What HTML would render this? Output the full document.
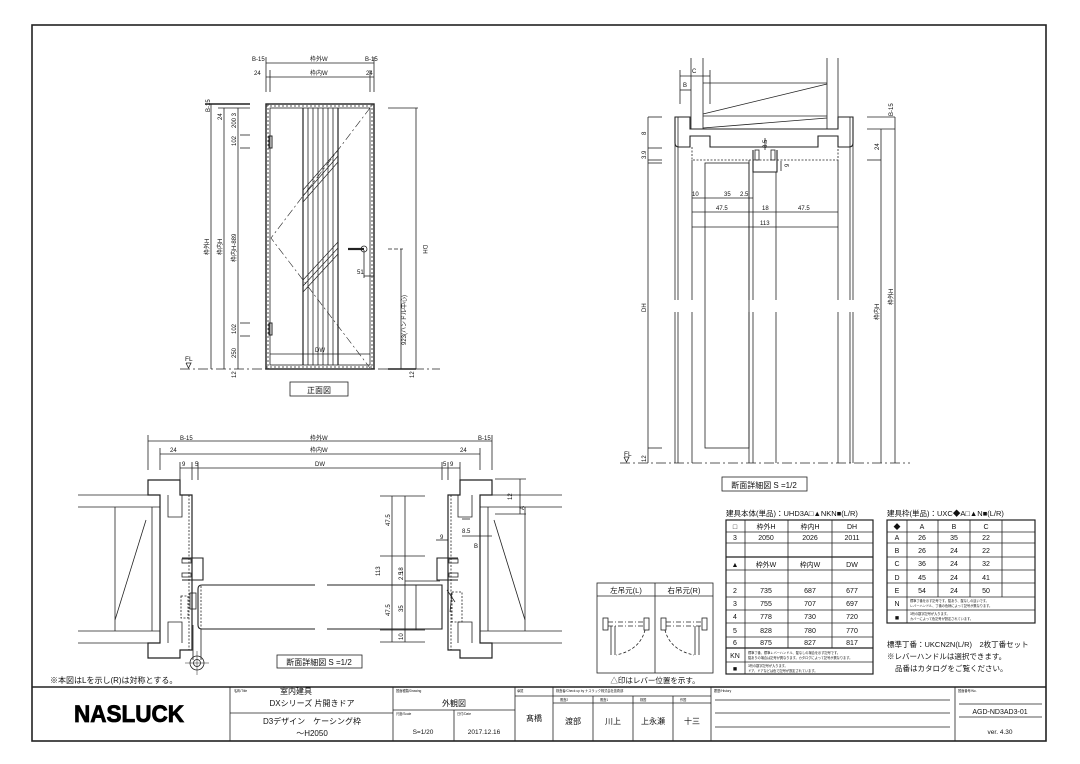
<!DOCTYPE html>
<html><head><meta charset="utf-8"><style>
html,body{margin:0;padding:0;background:#fff}
svg{display:block}
text{font-family:"Liberation Sans","Noto Sans CJK JP",sans-serif;fill:#111}
</style></head><body>
<svg width="1080" height="764" viewBox="0 0 1080 764" xmlns="http://www.w3.org/2000/svg">
<rect width="1080" height="764" fill="#fff"/>
<g fill="none" stroke="#222" stroke-width="0.8">
<rect x="32" y="25" width="1014" height="716" stroke-width="1.6"/>
<line x1="32" y1="687" x2="1046" y2="687" stroke-width="1.4"/>

<rect x="266" y="104" width="108" height="265" stroke-width="1.4"/>
<rect x="270" y="108" width="100" height="257"/>
<line x1="266" y1="106" x2="374" y2="106" stroke-dasharray="2 2"/>
<line x1="268" y1="104" x2="268" y2="369" stroke-dasharray="2 2"/>
<line x1="372" y1="104" x2="372" y2="369" stroke-dasharray="2 2"/>
<line x1="266" y1="367" x2="374" y2="367" stroke-dasharray="2 2"/>
<line x1="303" y1="108" x2="303" y2="365" stroke-width="1.2"/>
<line x1="338" y1="108" x2="338" y2="365" stroke-width="1.2"/>
<line x1="308" y1="108" x2="308" y2="365"/><line x1="313" y1="108" x2="313" y2="365"/>
<line x1="318" y1="108" x2="318" y2="365"/><line x1="323" y1="108" x2="323" y2="365"/>
<line x1="328" y1="108" x2="328" y2="365"/><line x1="333" y1="108" x2="333" y2="365"/>
<polyline points="370,108 271,238 370,368" stroke-dasharray="8 3 2 3" stroke-width="0.6"/>
<g stroke-width="0.7"><line x1="303" y1="196" x2="338" y2="156"/><line x1="303" y1="190" x2="338" y2="150"/><line x1="303" y1="202" x2="338" y2="162"/>
<line x1="303" y1="286" x2="338" y2="248"/><line x1="303" y1="280" x2="338" y2="242"/><line x1="303" y1="292" x2="338" y2="254"/></g>
<line x1="270" y1="354" x2="370" y2="354"/>
<rect x="269" y="136" width="3" height="12" stroke-width="1"/>
<rect x="269" y="323" width="3" height="12" stroke-width="1"/>
<line x1="348" y1="249" x2="364" y2="249" stroke-width="2.2"/>
<circle cx="364" cy="249" r="3"/>
<line x1="266" y1="63" x2="374" y2="63"/><line x1="266" y1="77" x2="374" y2="77"/>
<line x1="266" y1="57" x2="266" y2="92"/><line x1="270" y1="70" x2="270" y2="92"/>
<line x1="370" y1="70" x2="370" y2="92"/><line x1="374" y1="57" x2="374" y2="92"/>
<line x1="211" y1="104" x2="211" y2="369"/><line x1="224" y1="108" x2="224" y2="369"/><line x1="238" y1="108" x2="238" y2="369"/>
<line x1="205" y1="104" x2="250" y2="104" stroke-width="1.4"/><line x1="218" y1="108" x2="250" y2="108"/>
<line x1="240" y1="135" x2="250" y2="135"/><line x1="240" y1="148" x2="250" y2="148"/>
<line x1="240" y1="323" x2="250" y2="323"/><line x1="240" y1="336" x2="250" y2="336"/>
<line x1="180" y1="369" x2="440" y2="369" stroke-dasharray="10 3 2 3"/>
<line x1="388" y1="108" x2="418" y2="108"/><line x1="416" y1="108" x2="416" y2="369"/>
<line x1="388" y1="249" x2="403" y2="249" stroke-dasharray="4 2"/><line x1="401" y1="249" x2="401" y2="369"/>
<line x1="364" y1="250" x2="364" y2="278"/><line x1="364" y1="276" x2="374" y2="276"/>
<line x1="388" y1="369" x2="416" y2="369" stroke-width="1.4"/>
<rect x="290" y="382" width="58" height="14"/>
<polyline points="186,363 191,363 188.5,368 186,363"/>

<line x1="691" y1="58" x2="691" y2="129"/><line x1="703" y1="58" x2="703" y2="129"/>
<line x1="827" y1="58" x2="827" y2="129"/><line x1="838" y1="58" x2="838" y2="129"/>
<line x1="703" y1="83" x2="827" y2="83"/><line x1="703" y1="116" x2="827" y2="116"/>
<line x1="703" y1="114" x2="827" y2="84"/><line x1="703" y1="128" x2="827" y2="118"/>
<g stroke-width="1.1">
<path d="M675,117 H690 V129 H838 V117 H853 V143 Q853,147 849,147 H838 V136 H818 V147 H710 V136 H690 V147 H679 Q675,147 675,143 Z"/>
</g>
<path d="M692,147 V160 H838 V147" stroke-dasharray="2 1.5"/>
<line x1="675" y1="117" x2="675" y2="300"/><line x1="678" y1="117" x2="678" y2="300"/>
<line x1="850" y1="117" x2="850" y2="300"/><line x1="853" y1="117" x2="853" y2="300"/>
<line x1="675" y1="312" x2="675" y2="463"/><line x1="678" y1="312" x2="678" y2="463"/>
<line x1="850" y1="312" x2="850" y2="463"/><line x1="853" y1="312" x2="853" y2="463"/>
<line x1="692" y1="160" x2="692" y2="300"/><line x1="838" y1="160" x2="838" y2="300"/>
<line x1="692" y1="312" x2="692" y2="463"/><line x1="838" y1="312" x2="838" y2="463"/>
<line x1="749" y1="160" x2="749" y2="300"/><line x1="753" y1="172" x2="753" y2="300"/><line x1="776" y1="172" x2="776" y2="300"/>
<line x1="749" y1="312" x2="749" y2="463"/><line x1="753" y1="312" x2="753" y2="463"/><line x1="776" y1="312" x2="776" y2="463"/>
<rect x="705" y="163" width="44" height="285"/>
<path d="M753,150 V172 H777 V150" stroke-width="1.1"/>
<rect x="755" y="150" width="4" height="10"/><rect x="771" y="150" width="4" height="10"/>
<line x1="692" y1="198" x2="753" y2="198"/><line x1="692" y1="212" x2="838" y2="212"/><line x1="692" y1="227" x2="838" y2="227"/>
<line x1="648" y1="117" x2="648" y2="463"/><line x1="648" y1="117" x2="662" y2="117"/>
<line x1="648" y1="148" x2="662" y2="148"/><line x1="648" y1="160" x2="662" y2="160"/><line x1="648" y1="163" x2="662" y2="163"/>
<line x1="648" y1="448" x2="662" y2="448"/>
<line x1="680" y1="76" x2="710" y2="76"/><line x1="680" y1="90" x2="691" y2="90"/>
<line x1="680" y1="70" x2="680" y2="104"/><line x1="710" y1="70" x2="710" y2="104"/>
<line x1="867" y1="117" x2="895" y2="117"/><line x1="867" y1="129" x2="895" y2="129"/><line x1="867" y1="160" x2="881" y2="160"/>
<line x1="881" y1="129" x2="881" y2="463"/><line x1="895" y1="117" x2="895" y2="463"/>
<line x1="620" y1="463" x2="910" y2="463" stroke-dasharray="10 3 2 3"/>
<line x1="765" y1="138" x2="765" y2="150"/><line x1="781" y1="161" x2="781" y2="171"/>
<polyline points="624,457 629,457 626.5,462 624,457"/>
<rect x="722" y="477" width="85" height="14"/>

<line x1="148" y1="441" x2="492" y2="441"/><line x1="160" y1="454" x2="480" y2="454"/><line x1="180" y1="468" x2="460" y2="468"/>
<line x1="148" y1="435" x2="148" y2="470"/><line x1="160" y1="448" x2="160" y2="470"/>
<line x1="180" y1="462" x2="180" y2="480"/><line x1="192" y1="462" x2="192" y2="480"/><line x1="198" y1="462" x2="198" y2="480"/>
<line x1="492" y1="435" x2="492" y2="470"/><line x1="480" y1="448" x2="480" y2="470"/>
<line x1="460" y1="462" x2="460" y2="480"/><line x1="448" y1="462" x2="448" y2="480"/><line x1="442" y1="462" x2="442" y2="480"/>
<g>
<line x1="78" y1="495" x2="160" y2="495"/><line x1="78" y1="507" x2="160" y2="507"/>
<line x1="78" y1="631" x2="160" y2="631"/><line x1="78" y1="643" x2="160" y2="643"/>
<line x1="115" y1="507" x2="115" y2="631"/><line x1="152" y1="507" x2="152" y2="631"/>
<line x1="115" y1="620" x2="146" y2="520"/>
<path d="M148,480 H180 V495 H192 V650 H180 V658 H148 V643 H160 V495 H148 Z" stroke-width="1.2"/>
<path d="M168,495 V517 H182 V495"/>
<path d="M168,643 V622 H182 V643"/>
<line x1="189" y1="495" x2="189" y2="650" stroke-dasharray="2 1.5"/>
</g>
<g transform="matrix(-1,0,0,1,640,0)">
<line x1="78" y1="495" x2="160" y2="495"/><line x1="78" y1="507" x2="160" y2="507"/>
<line x1="78" y1="631" x2="160" y2="631"/><line x1="78" y1="643" x2="160" y2="643"/>
<line x1="115" y1="507" x2="115" y2="631"/><line x1="152" y1="507" x2="152" y2="631"/>
<line x1="115" y1="620" x2="146" y2="520"/>
<path d="M148,480 H180 V495 H192 V650 H180 V658 H148 V643 H160 V495 H148 Z" stroke-width="1.2"/>
<path d="M168,495 V517 H182 V495"/>
<path d="M168,643 V622 H182 V643"/>
<line x1="189" y1="495" x2="189" y2="650" stroke-dasharray="2 1.5"/>
<path d="M182,558 H203 V580 H182" stroke-width="1.1"/>
<rect x="182" y="559" width="9" height="4"/><rect x="182" y="573" width="9" height="4"/>
</g>
<path d="M182,558 H203 V580 H182" stroke-width="1.1"/>
<rect x="182" y="559" width="9" height="4"/><rect x="182" y="573" width="9" height="4"/>
<path d="M315,585 H202 Q198,585 198,589 V625 Q198,629 202,629 H315" stroke-width="1.1"/>
<path d="M327,585 H442 V629 H327" stroke-width="1.1"/>
<line x1="201" y1="586" x2="201" y2="628" stroke-dasharray="2 1.5"/>
<rect x="181" y="596" width="7" height="22" stroke-dasharray="2 1.5"/>
<rect x="190" y="593" width="6" height="16"/>
<line x1="193" y1="625" x2="193" y2="660"/><line x1="201" y1="629" x2="201" y2="660"/>
<circle cx="197" cy="663" r="7"/><circle cx="197" cy="663" r="3.5"/>
<line x1="185" y1="663" x2="209" y2="663" stroke-width="0.5"/><line x1="197" y1="651" x2="197" y2="675" stroke-width="0.5"/>
<path d="M447,590 L455,602 M452,592 L450,612" />
<rect x="452" y="592" width="10" height="30" stroke-dasharray="2 1.5"/>
<line x1="380" y1="496" x2="425" y2="496"/><line x1="380" y1="642" x2="425" y2="642"/>
<line x1="380" y1="556" x2="425" y2="556"/><line x1="380" y1="630" x2="425" y2="630"/>
<line x1="392" y1="496" x2="392" y2="642"/><line x1="405" y1="496" x2="405" y2="642"/>
<line x1="405" y1="581" x2="440" y2="581"/><line x1="405" y1="585" x2="440" y2="585"/>
<line x1="416" y1="585" x2="416" y2="630"/>
<line x1="495" y1="479" x2="526" y2="479"/><line x1="495" y1="514" x2="526" y2="514"/><line x1="520" y1="479" x2="520" y2="514"/>
<line x1="462" y1="536" x2="492" y2="536"/><line x1="436" y1="540" x2="448" y2="540"/>
<line x1="462" y1="519" x2="470" y2="519"/>
<rect x="277" y="655" width="85" height="13"/>

<rect x="597" y="583" width="116" height="90"/>
<line x1="597" y1="596" x2="713" y2="596"/><line x1="655" y1="583" x2="655" y2="673"/>
<rect x="603" y="618" width="5" height="12"/><rect x="644" y="618" width="5" height="12"/>
<line x1="608" y1="622" x2="644" y2="622" stroke-dasharray="5 2 1 2"/><line x1="608" y1="626" x2="644" y2="626" stroke-dasharray="5 2 1 2"/>
<line x1="611" y1="626" x2="611" y2="655"/><line x1="615" y1="626" x2="615" y2="655"/>
<path d="M645,630 Q640,650 616,655" stroke-dasharray="3 2"/>
<rect x="661" y="618" width="5" height="12"/><rect x="702" y="618" width="5" height="12"/>
<line x1="666" y1="622" x2="702" y2="622" stroke-dasharray="5 2 1 2"/><line x1="666" y1="626" x2="702" y2="626" stroke-dasharray="5 2 1 2"/>
<line x1="695" y1="626" x2="695" y2="655"/><line x1="699" y1="626" x2="699" y2="655"/>
<path d="M665,630 Q670,650 694,655" stroke-dasharray="3 2"/>

<rect x="726" y="520" width="147" height="154" stroke-width="1.2"/>
<g>
<line x1="745" y1="520" x2="745" y2="648"/><line x1="788" y1="520" x2="788" y2="648"/><line x1="832" y1="520" x2="832" y2="648"/>
<line x1="745" y1="648" x2="745" y2="674"/>
<line x1="726" y1="532" x2="873" y2="532"/><line x1="726" y1="543" x2="873" y2="543"/>
<line x1="726" y1="557" x2="873" y2="557" stroke-width="1.2"/><line x1="726" y1="570" x2="873" y2="570"/>
<line x1="726" y1="583" x2="873" y2="583"/><line x1="726" y1="597" x2="873" y2="597"/>
<line x1="726" y1="610" x2="873" y2="610"/><line x1="726" y1="623" x2="873" y2="623"/>
<line x1="726" y1="637" x2="873" y2="637"/><line x1="726" y1="648" x2="873" y2="648" stroke-width="1.2"/>
<line x1="726" y1="662" x2="873" y2="662"/>
</g>
<rect x="887" y="520" width="148" height="103" stroke-width="1.2"/>
<line x1="907" y1="520" x2="907" y2="623"/>
<line x1="938" y1="520" x2="938" y2="597"/><line x1="970" y1="520" x2="970" y2="597"/><line x1="1002" y1="520" x2="1002" y2="597"/>
<line x1="887" y1="532" x2="1035" y2="532"/><line x1="887" y1="543" x2="1035" y2="543"/>
<line x1="887" y1="557" x2="1035" y2="557"/><line x1="887" y1="570" x2="1035" y2="570"/>
<line x1="887" y1="583" x2="1035" y2="583"/><line x1="887" y1="597" x2="1035" y2="597"/>
<line x1="887" y1="610" x2="1035" y2="610"/>

<line x1="230" y1="687" x2="230" y2="741"/><line x1="393" y1="687" x2="393" y2="741"/>
<line x1="515" y1="687" x2="515" y2="741"/><line x1="553" y1="687" x2="553" y2="741"/>
<line x1="711" y1="687" x2="711" y2="741"/><line x1="955" y1="687" x2="955" y2="741"/>
<line x1="230" y1="713" x2="393" y2="713"/>
<line x1="393" y1="710" x2="515" y2="710"/><line x1="454" y1="710" x2="454" y2="741"/>
<line x1="515" y1="696" x2="553" y2="696"/>
<line x1="553" y1="696" x2="711" y2="696"/><line x1="553" y1="703" x2="711" y2="703"/>
<line x1="593" y1="696" x2="593" y2="741"/><line x1="633" y1="696" x2="633" y2="741"/><line x1="673" y1="696" x2="673" y2="741"/>
<line x1="715" y1="700" x2="950" y2="700"/><line x1="715" y1="713" x2="950" y2="713"/><line x1="715" y1="727" x2="950" y2="727"/>
<line x1="959" y1="704" x2="1042" y2="704"/><line x1="959" y1="717" x2="1042" y2="717"/>
</g>

<g font-size="6">
<text x="252" y="61">B-15</text><text x="310" y="61">枠外W</text><text x="365" y="61">B-15</text>
<text x="254" y="75">24</text><text x="310" y="75">枠内W</text><text x="366" y="75">24</text>
<text x="315" y="352">DW</text>
<text x="357" y="274">51</text>
<text x="692" y="73">C</text><text x="683" y="87">B</text>
<text x="692" y="196">10</text><text x="724" y="196">35</text><text x="740" y="196">2.5</text>
<text x="716" y="210">47.5</text><text x="762" y="210">18</text><text x="798" y="210">47.5</text>
<text x="760" y="225">113</text>
<text x="180" y="440">B-15</text><text x="310" y="440">枠外W</text><text x="478" y="440">B-15</text>
<text x="170" y="452">24</text><text x="310" y="452">枠内W</text><text x="460" y="452">24</text>
<text x="182" y="466">9</text><text x="195" y="466">5</text><text x="315" y="466">DW</text><text x="443" y="466">5</text><text x="450" y="466">9</text>
<text x="440" y="539">9</text><text x="462" y="533">8.5</text><text x="474" y="548">B</text>
</g>
<g font-size="6">
<text transform="translate(210,112) rotate(-90)">B-15</text>
<text transform="translate(222,120) rotate(-90)">24</text>
<text transform="translate(236,128) rotate(-90)">200 3</text>
<text transform="translate(236,146) rotate(-90)">102</text>
<text transform="translate(209,255) rotate(-90)">枠外H</text>
<text transform="translate(222,255) rotate(-90)">枠内H</text>
<text transform="translate(236,262) rotate(-90)">枠内H-889</text>
<text transform="translate(236,334) rotate(-90)">102</text>
<text transform="translate(236,358) rotate(-90)">250</text>
<text transform="translate(236,378) rotate(-90)">12</text>
<text transform="translate(414,378) rotate(-90)">12</text>
<text transform="translate(423,245) rotate(90)">DH</text>
<text transform="translate(406,345) rotate(-90)">923(ハンドル中心)</text>
<text transform="translate(646,135) rotate(-90)">8</text>
<text transform="translate(646,159) rotate(-90)">3.9</text>
<text transform="translate(646,312) rotate(-90)">DH</text>
<text transform="translate(646,462) rotate(-90)">12</text>
<text transform="translate(893,116) rotate(-90)">B-15</text>
<text transform="translate(879,150) rotate(-90)">24</text>
<text transform="translate(879,320) rotate(-90)">枠内H</text>
<text transform="translate(893,305) rotate(-90)">枠外H</text>
<text transform="translate(767,148) rotate(-90)">8.5</text>
<text transform="translate(789,167) rotate(-90)">9</text>
<text transform="translate(390,526) rotate(-90)">47.5</text>
<text transform="translate(380,576) rotate(-90)">113</text>
<text transform="translate(390,616) rotate(-90)">47.5</text>
<text transform="translate(403,574) rotate(-90)">18</text>
<text transform="translate(403,580) rotate(-90)">2.5</text>
<text transform="translate(403,612) rotate(-90)">35</text>
<text transform="translate(403,640) rotate(-90)">10</text>
<text transform="translate(512,500) rotate(-90)">12</text>
<text transform="translate(524,510) rotate(-90)">A</text>
</g>
<g font-size="6.5">
<text x="185" y="361">FL</text><text x="624" y="456">FL</text>
</g>
<g font-size="8">
<text x="319" y="393" text-anchor="middle">正面図</text>
<text x="764" y="488" text-anchor="middle">断面詳細図 S =1/2</text>
<text x="319" y="665" text-anchor="middle">断面詳細図 S =1/2</text>
<text x="50" y="683">※本図はLを示し(R)は対称とする。</text>
<text x="626" y="593" text-anchor="middle" font-size="7.5">左吊元(L)</text>
<text x="684" y="593" text-anchor="middle" font-size="7.5">右吊元(R)</text>
<text x="655" y="683" text-anchor="middle" font-size="7.5">△印はレバー位置を示す。</text>
<text x="726" y="516" font-size="7.5">建具本体(単品)：UHD3A□▲NKN■(L/R)</text>
<text x="887" y="516" font-size="7.5">建具枠(単品)：UXC◆A□▲N■(L/R)</text>
<text x="887" y="647" font-size="7.5">標準丁番：UKCN2N(L/R)　2枚丁番セット</text>
<text x="887" y="659" font-size="7.5">※レバーハンドルは選択できます。</text>
<text x="895" y="671" font-size="7.5">品番はカタログをご覧ください。</text>
</g>
<g font-size="7" text-anchor="middle">
<text x="735" y="529">□</text><text x="766" y="529">枠外H</text><text x="810" y="529">枠内H</text><text x="852" y="529">DH</text>
<text x="735" y="540">3</text><text x="766" y="540">2050</text><text x="810" y="540">2026</text><text x="852" y="540">2011</text>
<text x="735" y="567">▲</text><text x="766" y="567">枠外W</text><text x="810" y="567">枠内W</text><text x="852" y="567">DW</text>
<text x="735" y="593">2</text><text x="766" y="593">735</text><text x="810" y="593">687</text><text x="852" y="593">677</text>
<text x="735" y="606">3</text><text x="766" y="606">755</text><text x="810" y="606">707</text><text x="852" y="606">697</text>
<text x="735" y="619">4</text><text x="766" y="619">778</text><text x="810" y="619">730</text><text x="852" y="619">720</text>
<text x="735" y="633">5</text><text x="766" y="633">828</text><text x="810" y="633">780</text><text x="852" y="633">770</text>
<text x="735" y="645">6</text><text x="766" y="645">875</text><text x="810" y="645">827</text><text x="852" y="645">817</text>
<text x="735" y="658">KN</text><text x="735" y="671">■</text>
<text x="897" y="529">◆</text><text x="922" y="529">A</text><text x="954" y="529">B</text><text x="986" y="529">C</text>
<text x="897" y="540">A</text><text x="922" y="540">26</text><text x="954" y="540">35</text><text x="986" y="540">22</text>
<text x="897" y="553">B</text><text x="922" y="553">26</text><text x="954" y="553">24</text><text x="986" y="553">22</text>
<text x="897" y="566">C</text><text x="922" y="566">36</text><text x="954" y="566">24</text><text x="986" y="566">32</text>
<text x="897" y="580">D</text><text x="922" y="580">45</text><text x="954" y="580">24</text><text x="986" y="580">41</text>
<text x="897" y="593">E</text><text x="922" y="593">54</text><text x="954" y="593">24</text><text x="986" y="593">50</text>
<text x="897" y="606">N</text><text x="897" y="620">■</text>
</g>
<g font-size="3.2">
<text x="748" y="654">標準丁番、標準レバーハンドル、錠なしの場合を示す記号です。</text>
<text x="748" y="659">錠ありの場合は記号が異なります。カタログによって記号が異なります。</text>
<text x="748" y="667">3桁の数字記号が入ります。</text>
<text x="748" y="672">ドア、ドアなどは色で記号が設定されています。</text>
<text x="910" y="602">標準丁番を示す記号です。錠あり、錠なしの違いです。</text>
<text x="910" y="607">レバーハンドル、丁番の色柄によって記号が異なります。</text>
<text x="910" y="615">3桁の数字記号が入ります。</text>
<text x="910" y="620">カバーによって色記号が設定されています。</text>
<text x="234" y="692">名称/Title</text><text x="396" y="692">図面種類/Drawing</text>
<text x="517" y="692">承認</text><text x="556" y="692">検査者/Check up by ナスラック株式会社技術部</text>
<text x="714" y="692">履歴/History</text><text x="958" y="692">図面番号/No.</text>
<text x="396" y="715">尺度/Scale</text><text x="457" y="715">日付/Date</text>
<text x="560" y="701">照査2</text><text x="600" y="701">照査1</text><text x="640" y="701">検図</text><text x="680" y="701">作図</text>
</g>
<g font-size="8" text-anchor="middle">
<text x="296" y="694">室内建具</text>
<text x="312" y="706">DXシリーズ 片開きドア</text>
<text x="312" y="724">D3デザイン　ケーシング枠</text>
<text x="312" y="736">～H2050</text>
<text x="454" y="706">外観図</text>
<text x="423" y="734" font-size="6.5">S=1/20</text>
<text x="484" y="734" font-size="6.5">2017.12.16</text>
<text x="534" y="721">髙橋</text>
<text x="573" y="724">渡部</text><text x="613" y="724">川上</text><text x="653" y="724">上永瀬</text><text x="692" y="724">十三</text>
<text x="1000" y="714" font-size="7">AGD-ND3AD3-01</text>
<text x="1000" y="734" font-size="6.5">ver. 4.30</text>
</g>
<text x="74" y="722" font-size="24" font-weight="bold" textLength="110" lengthAdjust="spacingAndGlyphs" stroke="#000" stroke-width="0.8" style="fill:#000">NASLUCK</text>
</svg>
</body></html>
